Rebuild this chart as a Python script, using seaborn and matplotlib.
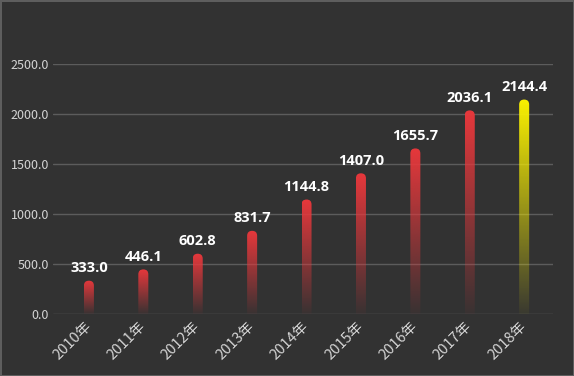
import numpy as np
import pandas as pd
import matplotlib
matplotlib.use("Agg")
import matplotlib.pyplot as plt
import matplotlib.transforms as mtransforms
from matplotlib.patches import FancyBboxPatch
from matplotlib.colors import to_rgb
import seaborn as sns

years = ["2010年", "2011年", "2012年", "2013年", "2014年", "2015年", "2016年", "2017年", "2018年"]
values = [333.0, 446.1, 602.8, 831.7, 1144.8, 1407.0, 1655.7, 2036.1, 2144.4]
bar_colors = ["#e8383c"] * 8 + ["#fbf200"]
yticks = [0, 500, 1000, 1500, 2000, 2500]

BG = "#323232"
sns.set_theme(style="dark")
plt.rcParams["font.family"] = ["Noto Sans CJK SC", "DejaVu Sans"]

W, H = 574, 376
fig = plt.figure(figsize=(W / 100, H / 100), dpi=100)
fig.patch.set_facecolor(BG)
fig.patch.set_edgecolor("#5e5e5e")
fig.patch.set_linewidth(2)

left, right, bottom, top = 53, 553, 314, 64
ax = fig.add_axes([left / W, 1 - bottom / H, (right - left) / W, (bottom - top) / H])
ax.set_facecolor(BG)

df = pd.DataFrame({"year": years, "value": values})
sns.barplot(data=df, x="year", y="value", hue="year", palette=bar_colors,
            legend=False, width=0.184, ax=ax, saturation=1)

ax.set_xlim(-0.66, 8.53)
ax.set_ylim(0, 2500)
ax.set_yticks(yticks)
ax.set_yticklabels([f"{v:.1f}" for v in yticks], color="#d4d4d4", fontsize=9)
ax.set_xlabel("")
ax.set_ylabel("")
ax.grid(axis="y", color="#5c5c5c", linewidth=1)
ax.grid(axis="x", visible=False)
for s in ax.spines.values():
    s.set_visible(False)
ax.tick_params(axis="both", length=0)
ax.tick_params(axis="y", pad=3)
ax.tick_params(axis="x", pad=7.5)
for lab in ax.get_xticklabels():
    lab.set_rotation(45)
    lab.set_ha("right")
    lab.set_va("center")
    lab.set_rotation_mode("anchor")
    lab.set_color("#d4d4d4")
    lab.set_fontsize(10.5)

for patch, col, v in zip(list(ax.patches), bar_colors, values):
    x0 = patch.get_x()
    w = patch.get_width()
    patch.set_visible(False)
    rgb = to_rgb(col)
    n = 256
    alpha = np.linspace(1.0, 0.04, n)
    grad = np.zeros((n, 1, 4))
    grad[:, 0, :3] = rgb
    grad[:, 0, 3] = alpha
    im = ax.imshow(grad, extent=(x0, x0 + w, 0, v), aspect="auto",
                   origin="upper", interpolation="bilinear", zorder=3)
    (px0, py0) = ax.transData.transform((x0, 0))
    (px1, py1) = ax.transData.transform((x0 + w, v))
    wpx = px1 - px0
    clip = FancyBboxPatch((px0, py0 - wpx), wpx, py1 - py0 + wpx,
                          boxstyle=f"round,pad=0,rounding_size={wpx / 2}",
                          transform=mtransforms.IdentityTransform(),
                          facecolor="none", edgecolor="none")
    im.set_clip_path(clip)
    ax.annotate(f"{v:.1f}", (x0 + w / 2, v), xytext=(0, 6), textcoords="offset points",
                ha="center", va="baseline", color="white", fontsize=10.5,
                family=["Open Sans", "DejaVu Sans"],
                fontweight="bold", annotation_clip=False, zorder=4)

ax.set_xlim(-0.66, 8.53)
ax.set_ylim(0, 2500)

fig.savefig("out.png", dpi=100, facecolor=BG, edgecolor="#5e5e5e")
